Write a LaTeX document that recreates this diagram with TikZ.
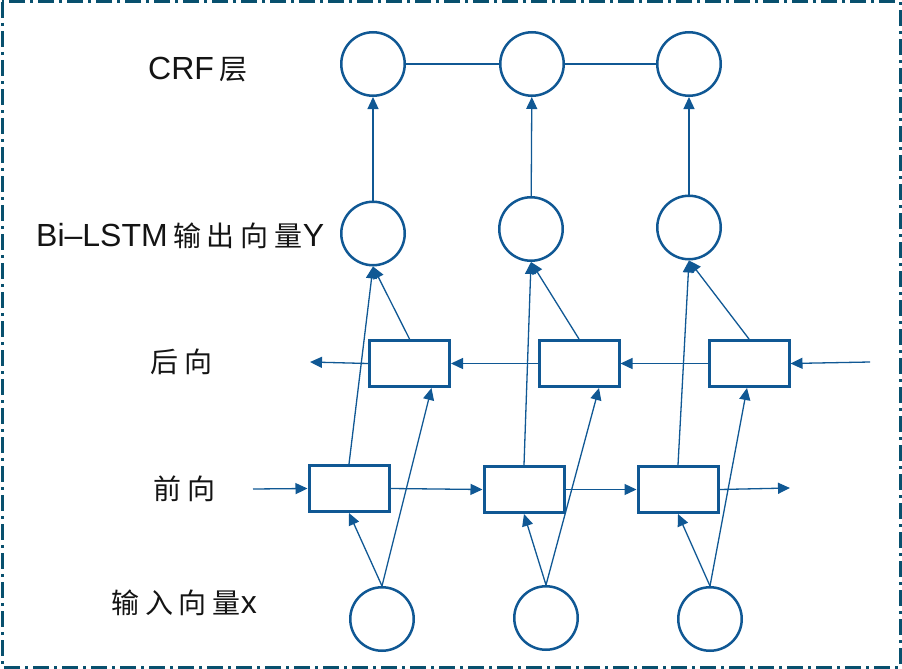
\documentclass[tikz,border=0pt]{standalone}
\usepackage{fontspec}
\setmainfont{Liberation Sans}
\newfontfamily\cjkfnt{Noto Sans CJK SC}[LetterSpace=21]
\newcommand\zhtxt[1]{{\cjkfnt\fontsize{28}{34}\selectfont #1}}
\usetikzlibrary{arrows.meta}
\definecolor{ln}{RGB}{16,88,148}
\definecolor{bd}{RGB}{8,80,110}
\definecolor{tx}{RGB}{20,20,20}
\tikzset{
  circ/.style={circle,draw=ln,line width=2.5pt,minimum size=63.5pt,inner sep=0pt,fill=white},
  cell/.style={rectangle,draw=ln,line width=3pt,minimum width=80pt,minimum height=46pt,inner sep=0pt,fill=white},
  conn/.style={draw=ln,line width=1.3pt},
  arr/.style={conn,-{Triangle[length=12pt,width=11pt]}},
  lbl/.style={font=\fontsize{32}{38}\selectfont,text=tx,inner sep=0pt,anchor=west}
}
\begin{document}
\begin{tikzpicture}[x=1pt,y=-1pt]
\fill[white] (0,0) rectangle (902,669);
\useasboundingbox (0,0) rectangle (902,669);
\draw[bd,line width=3pt,dash pattern=on 16pt off 5pt on 3pt off 5pt] (2,2) rectangle (900,667);

% labels
\node[lbl] (lcrf) at (148,70) {CRF\,\zhtxt{层}};
\node[lbl] (lbi) at (36,236) {Bi–LSTM\,\zhtxt{输出向量}Y};
\node[lbl] (lbw) at (150,362) {\zhtxt{后向}};
\node[lbl] (lfw) at (153,489) {\zhtxt{前向}};
\node[lbl] (lin) at (111,603) {\zhtxt{输入向量}x};

% CRF circles
\node[circ] (c1) at (373,64) {};
\node[circ] (c2) at (532,64) {};
\node[circ] (c3) at (689,64) {};
% Bi-LSTM output circles
\node[circ] (b1) at (373,233.5) {};
\node[circ] (b2) at (531,229) {};
\node[circ] (b3) at (689,227.5) {};
% input circles
\node[circ] (i1) at (382,619) {};
\node[circ] (i2) at (546,618) {};
\node[circ] (i3) at (710,619) {};
% backward cells
\node[cell] (bw1) at (409.5,363.5) {};
\node[cell] (bw2) at (579,363.5) {};
\node[cell] (bw3) at (749,363.5) {};
% forward cells
\node[cell] (fw1) at (349,488.5) {};
\node[cell] (fw2) at (524,489.5) {};
\node[cell] (fw3) at (678,489.5) {};

\coordinate (bwin) at (870,362);
\coordinate (bwout) at (310,362);
\coordinate (fwin) at (253,489);
\coordinate (fwout) at (790,488);

% CRF chain
\draw[conn] (c1) -- (c2);
\draw[conn] (c2) -- (c3);
% to CRF
\draw[arr] (b1) -- (c1);
\draw[arr] (b2) -- (c2);
\draw[arr] (b3) -- (c3);
% backward chain
\draw[arr] (bwin) -- (bw3.east);
\draw[arr] (bw3.west) -- (bw2.east);
\draw[arr] (bw2.west) -- (bw1.east);
\draw[arr] (bw1.west) -- (bwout);
% forward chain
\draw[arr] (fwin) -- (fw1.west);
\draw[arr] (fw1.east) -- (fw2.west);
\draw[arr] (fw2.east) -- (fw3.west);
\draw[arr] (fw3.east) -- (fwout);
% input to cells
\draw[arr] (i1.north) -- (fw1.south);
\draw[arr] (i2.north) -- (fw2.south);
\draw[arr] (i3.north) -- (fw3.south);
\draw[arr] (i1.north) -- ([xshift=22pt]bw1.south);
\draw[arr] (i2.north) -- ([xshift=20pt]bw2.south);
\draw[arr] (i3.north) -- ([xshift=-2pt]bw3.south);
% cells to outputs
\draw[arr] (fw1.north) -- (b1.south);
\draw[arr] (fw2.north) -- (b2.south);
\draw[arr] (fw3.north) -- (b3.south);
\draw[arr] (bw1.north) -- (b1.south);
\draw[arr] (bw2.north) -- (b2.south);
\draw[arr] (bw3.north) -- (b3.south);
\end{tikzpicture}
\end{document}
